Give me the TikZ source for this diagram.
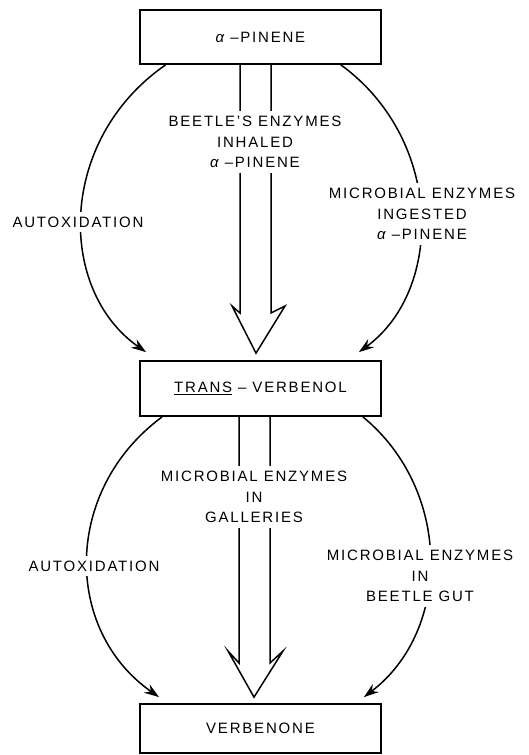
\documentclass[tikz,border=0pt]{standalone}
\usepackage{fontspec}
\setmainfont{Liberation Sans}
\newfontfamily\labfont[LetterSpace=12]{Liberation Sans}
\usetikzlibrary{arrows.meta,calc}
\newcommand{\alp}{{\itshape α}}
\begin{document}
\begin{tikzpicture}[x=1pt,y=-1pt,
  txt/.style={font=\labfont\fontsize{15}{20.5}\selectfont},
  box/.style={txt,draw,line width=1.7pt,minimum width=241pt,inner sep=0pt},
  lab/.style={txt,align=center,fill=white,inner xsep=2pt,inner ysep=5pt},
  arc/.style={line width=1.5pt,-{Stealth[length=15pt,width=10pt]}},
  hollow/.style={line width=1.5pt,line join=miter}]
\useasboundingbox (0,0) rectangle (528,755);

% boxes
\node[box,minimum height=54pt] (top) at (260.5,37) {\alp\ –PINENE};
\node[box,minimum height=55pt] (mid) at (260.5,388.5) {\underline{TRANS} – VERBENOL};
\node[box,minimum height=49pt] (bot) at (260.5,728.5) {VERBENONE};

% upper connectors
\draw[arc] ([xshift=26.5pt]top.south west) .. controls (57,140) and (57,290) .. ([xshift=7pt,yshift=8pt]mid.north west);
\draw[arc] ([xshift=-41pt]top.south east) .. controls (444,140) and (444,290) .. ([xshift=-23pt,yshift=8pt]mid.north east);
\draw[hollow] ([xshift=-20.5pt]top.south) -- (240,313) -- (232,306) -- ([xshift=-4.5pt,yshift=7pt]mid.north) -- (285,306) -- (271,313) -- ([xshift=10.5pt]top.south);

% lower connectors
\draw[arc] ([xshift=23pt]mid.south west) .. controls (63,490) and (63,630) .. ([xshift=20pt,yshift=6pt]bot.north west);
\draw[arc] ([xshift=-19pt]mid.south east) .. controls (452,490) and (452,630) .. ([xshift=-18pt,yshift=6pt]bot.north east);
\draw[hollow] ([xshift=-21.5pt]mid.south) -- (239,663) -- (228,651) -- ([xshift=-6.5pt,yshift=6pt]bot.north) -- (283,651) -- (270,663) -- ([xshift=9.5pt]mid.south);

% labels
\node[lab] (l1) at (78,222) {AUTOXIDATION};
\node[lab] (c1) at (255,142) {BEETLE’S ENZYMES\\INHALED\\\alp\ –PINENE};
\node[lab] (r1) at (422,214) {MICROBIAL ENZYMES\\INGESTED\\\alp\ –PINENE};
\node[lab] (l2) at (94,566) {AUTOXIDATION};
\node[lab] (c2) at (254,497) {MICROBIAL ENZYMES\\IN\\GALLERIES};
\node[lab] (r2) at (420,576) {MICROBIAL ENZYMES\\IN\\BEETLE GUT};
\end{tikzpicture}
\end{document}
